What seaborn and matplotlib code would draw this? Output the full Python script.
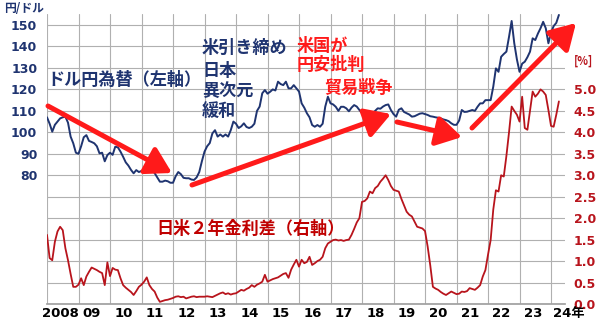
import numpy as np
import pandas as pd
import matplotlib
matplotlib.use("Agg")
import matplotlib.pyplot as plt
from matplotlib.patches import FancyArrowPatch
import seaborn as sns

# ---------------- data (monthly, Jan 2008 - Apr 2024) ----------------
usdjpy_2008 = [107.0, 104.0, 100.3, 103.5, 105.0, 106.5, 107.0, 107.3, 104.5, 98.0, 94.9, 90.5]
usdjpy_2009 = [90.0, 93.5, 97.7, 98.7, 96.0, 95.5, 94.9, 93.5, 90.2, 90.5, 86.5, 89.4]
usdjpy_2010 = [90.5, 89.5, 93.3, 93.0, 91.0, 88.6, 86.0, 84.5, 82.5, 80.9, 82.4, 81.5]
usdjpy_2011 = [82.0, 82.5, 81.5, 82.0, 82.4, 81.0, 79.0, 77.0, 77.0, 77.5, 77.2, 76.5]
usdjpy_2012 = [76.5, 79.5, 81.5, 80.5, 78.8, 78.6, 78.6, 78.0, 77.8, 79.0, 81.5, 86.5]
usdjpy_2013 = [91.0, 93.5, 95.0, 99.5, 101.0, 98.0, 99.0, 98.0, 99.0, 98.0, 101.0, 105.0]
usdjpy_2014 = [104.0, 102.0, 102.8, 104.2, 102.5, 102.0, 102.6, 104.0, 110.0, 112.0, 118.2, 119.7]
usdjpy_2015 = [118.0, 118.9, 120.0, 119.5, 123.6, 122.5, 122.0, 123.6, 120.5, 120.5, 122.0, 120.5]
usdjpy_2016 = [119.0, 113.5, 111.5, 108.9, 107.0, 103.4, 102.6, 103.4, 102.6, 104.0, 112.0, 116.6]
usdjpy_2017 = [113.5, 113.0, 111.9, 110.0, 111.9, 111.9, 111.2, 109.8, 111.5, 112.7, 112.0, 110.4]
usdjpy_2018 = [109.0, 107.3, 106.5, 108.0, 108.9, 110.0, 111.2, 111.0, 112.0, 112.7, 113.0, 110.4]
usdjpy_2019 = [108.5, 107.3, 110.5, 111.2, 109.5, 108.9, 108.3, 107.3, 107.5, 108.1, 108.7, 108.9]
usdjpy_2020 = [108.5, 108.1, 107.5, 107.3, 107.0, 106.8, 106.5, 106.0, 105.7, 105.2, 104.2, 103.5]
usdjpy_2021 = [103.5, 105.5, 110.4, 109.5, 109.6, 110.0, 110.4, 110.0, 111.9, 113.5, 113.5, 115.0]
usdjpy_2022 = [115.0, 115.0, 121.3, 129.8, 128.2, 135.2, 136.5, 137.6, 144.5, 151.9, 141.5, 134.0]
usdjpy_2023 = [128.2, 132.0, 132.9, 135.0, 137.6, 143.8, 143.0, 146.0, 148.5, 151.5, 148.5, 141.5]
usdjpy_2024 = [146.5, 149.5, 151.0, 154.7]

spread_2008 = [1.61, 1.07, 1.02, 1.45, 1.69, 1.80, 1.72, 1.30, 1.02, 0.70, 0.40, 0.40]
spread_2009 = [0.45, 0.60, 0.44, 0.64, 0.75, 0.85, 0.82, 0.79, 0.75, 0.72, 0.44, 0.97]
spread_2010 = [0.65, 0.84, 0.80, 0.79, 0.60, 0.44, 0.38, 0.33, 0.28, 0.21, 0.30, 0.40]
spread_2011 = [0.45, 0.52, 0.62, 0.44, 0.35, 0.29, 0.15, 0.05, 0.07, 0.09, 0.10, 0.12]
spread_2012 = [0.14, 0.17, 0.18, 0.16, 0.17, 0.13, 0.15, 0.17, 0.18, 0.16, 0.17, 0.17]
spread_2013 = [0.17, 0.18, 0.17, 0.16, 0.19, 0.22, 0.25, 0.27, 0.23, 0.25, 0.22, 0.24]
spread_2014 = [0.25, 0.29, 0.33, 0.31, 0.35, 0.38, 0.44, 0.40, 0.45, 0.48, 0.52, 0.68]
spread_2015 = [0.52, 0.55, 0.58, 0.60, 0.62, 0.66, 0.70, 0.72, 0.61, 0.80, 0.92, 1.03]
spread_2016 = [0.87, 1.03, 0.95, 0.98, 1.10, 0.91, 0.95, 1.00, 1.03, 1.10, 1.30, 1.41]
spread_2017 = [1.45, 1.49, 1.50, 1.48, 1.49, 1.47, 1.49, 1.50, 1.61, 1.75, 1.90, 2.00]
spread_2018 = [2.38, 2.40, 2.46, 2.62, 2.58, 2.70, 2.75, 2.85, 2.92, 3.00, 2.89, 2.75]
spread_2019 = [2.66, 2.64, 2.62, 2.45, 2.30, 2.15, 2.08, 2.04, 1.92, 1.80, 1.78, 1.76]
spread_2020 = [1.70, 1.34, 0.90, 0.40, 0.36, 0.33, 0.28, 0.24, 0.21, 0.25, 0.29, 0.26]
spread_2021 = [0.23, 0.24, 0.29, 0.28, 0.30, 0.37, 0.35, 0.33, 0.38, 0.44, 0.64, 0.79]
spread_2022 = [1.15, 1.49, 2.20, 2.65, 2.62, 3.00, 2.97, 3.45, 4.00, 4.60, 4.50, 4.41]
spread_2023 = [4.25, 4.83, 4.10, 4.06, 4.50, 4.95, 4.83, 4.90, 5.00, 4.95, 4.87, 4.52]
spread_2024 = [4.15, 4.13, 4.41, 4.72]

year_labels = ["2008", "09", "10", "11", "12", "13", "14", "15", "16",
               "17", "18", "19", "20", "21", "22", "23", "24年"]
left_ticks = [20, 30, 40, 50, 60, 70, 80, 90, 100, 110, 120, 130, 140, 150]
left_labels = ["", "", "", "", "", "", "80", "90", "100", "110", "120", "130", "140", "150"]
right_ticks = [0.0, 0.5, 1.0, 1.5, 2.0, 2.5, 3.0, 3.5, 4.0, 4.5, 5.0]
right_grid = [0.0, 0.5, 1.0, 1.5, 2.0, 2.5, 3.0, 3.5, 4.0, 4.5, 5.0, 5.5, 6.0, 6.5]

usdjpy = (usdjpy_2008 + usdjpy_2009 + usdjpy_2010 + usdjpy_2011 + usdjpy_2012 + usdjpy_2013
          + usdjpy_2014 + usdjpy_2015 + usdjpy_2016 + usdjpy_2017 + usdjpy_2018 + usdjpy_2019
          + usdjpy_2020 + usdjpy_2021 + usdjpy_2022 + usdjpy_2023 + usdjpy_2024)
spread = (spread_2008 + spread_2009 + spread_2010 + spread_2011 + spread_2012 + spread_2013
          + spread_2014 + spread_2015 + spread_2016 + spread_2017 + spread_2018 + spread_2019
          + spread_2020 + spread_2021 + spread_2022 + spread_2023 + spread_2024)

dates = pd.date_range("2008-01-01", periods=len(usdjpy), freq="MS")
df = pd.DataFrame({
    "t": dates.year + (dates.month - 1) / 12.0,
    "usdjpy": usdjpy,
    "spread": spread,
})

# ---------------- style ----------------
sns.set_theme(style="white")
plt.rcParams["font.family"] = ["DejaVu Sans", "Noto Sans CJK JP"]
CJK = ["Noto Sans CJK JP", "DejaVu Sans"]

NAVY = "#1f3470"
DARKRED = "#b8141c"
RED = "#ff1a1a"
GRID = "#b0b0b0"

W, H = 600, 321
fig = plt.figure(figsize=(6.0, 3.21), dpi=100, facecolor="white")
ax = fig.add_axes([47 / W, 1 - 304 / H, (565.2 - 47) / W, (304 - 14.3) / H])
ax2 = ax.twinx()
# right axis (grid + spread) underneath, left axis (USD/JPY) on top
ax2.set_zorder(1)
ax.set_zorder(2)
ax.patch.set_visible(False)
ax2.patch.set_visible(False)

sns.lineplot(data=df, x="t", y="usdjpy", ax=ax, color=NAVY, linewidth=1.4, zorder=3)
sns.lineplot(data=df, x="t", y="spread", ax=ax2, color=DARKRED, linewidth=1.3, zorder=3)

years = list(range(2008, 2025))
ax.set_xlim(2008.0, 2024.45)
ax.set_ylim(20, 155)
ax2.set_ylim(0, 6.75)

label_pos = [y + 0.43 for y in years[:-1]] + [2024.06]
ax.set_xticks(label_pos)
ax.set_xticklabels(year_labels)
ax.get_xticklabels()[-1].set_horizontalalignment("left")
ax.set_yticks(left_ticks)
ax.set_yticklabels(left_labels)
ax2.set_yticks(right_ticks)
ax2.set_yticklabels([f"{v:.1f}" for v in right_ticks])

ax.tick_params(axis="x", which="both", length=0, pad=2, labelsize=9.5, labelcolor="black")
ax.tick_params(axis="y", length=0, pad=7, labelsize=9, labelcolor=NAVY)
ax2.tick_params(axis="y", length=0, pad=6, labelsize=9, labelcolor=DARKRED)
for lab in ax.get_xticklabels() + ax.get_yticklabels() + ax2.get_yticklabels():
    lab.set_fontweight("bold")

ax.xaxis.label.set_visible(False)
ax.yaxis.label.set_visible(False)
ax2.yaxis.label.set_visible(False)

for a in (ax, ax2):
    for s in ("top", "left", "right"):
        a.spines[s].set_visible(False)
    a.spines["bottom"].set_color("#a0a0a0")
ax2.spines["bottom"].set_visible(False)

# grid: vertical lines at year boundaries, horizontal every 0.5 % (= 10 yen)
ax.grid(False)
ax2.grid(False)
for yr in years:
    ax2.axvline(yr, color=GRID, linewidth=0.8, zorder=2.9)
for p in right_grid:
    ax2.axhline(p, color=GRID, linewidth=0.8, zorder=2.9)


def fx(px):
    return px / W


def fy(py):
    return 1 - py / H


def label(px, py, s, color, size=12.3):
    fig.text(fx(px), fy(py), s, color=color, fontsize=size, fontweight="bold",
             family=CJK, ha="left", va="center")


label(4, 9, "円/ドル", NAVY, size=8.5)
label(574, 61, "[%]", DARKRED, size=8)
label(47, 80, "ドル円為替（左軸）", NAVY)
label(202, 48, "米引き締め", NAVY)
label(202, 71, "日本", NAVY)
label(202, 91, "異次元", NAVY)
label(202, 111, "緩和", NAVY)
label(297, 46, "米国が", RED)
label(297, 65, "円安批判", RED)
label(324, 88, "貿易戦争", RED)
label(156, 229, "日米２年金利差（右軸）", "#c00000")


def arrow(p0, p1):
    arr = FancyArrowPatch((fx(p0[0]), fy(p0[1])), (fx(p1[0]), fy(p1[1])),
                          transform=fig.transFigure, arrowstyle="-|>,head_length=0.85,head_width=0.5",
                          mutation_scale=18, color=RED, linewidth=3.6,
                          shrinkA=0, shrinkB=0, zorder=10)
    fig.add_artist(arr)


arrow((48, 106), (172, 173))
arrow((192, 185), (391, 114))
arrow((397, 122), (462, 137))
arrow((472, 128), (576, 23))

fig.canvas.draw()
fig.savefig("out.png", dpi=100, facecolor="white")
